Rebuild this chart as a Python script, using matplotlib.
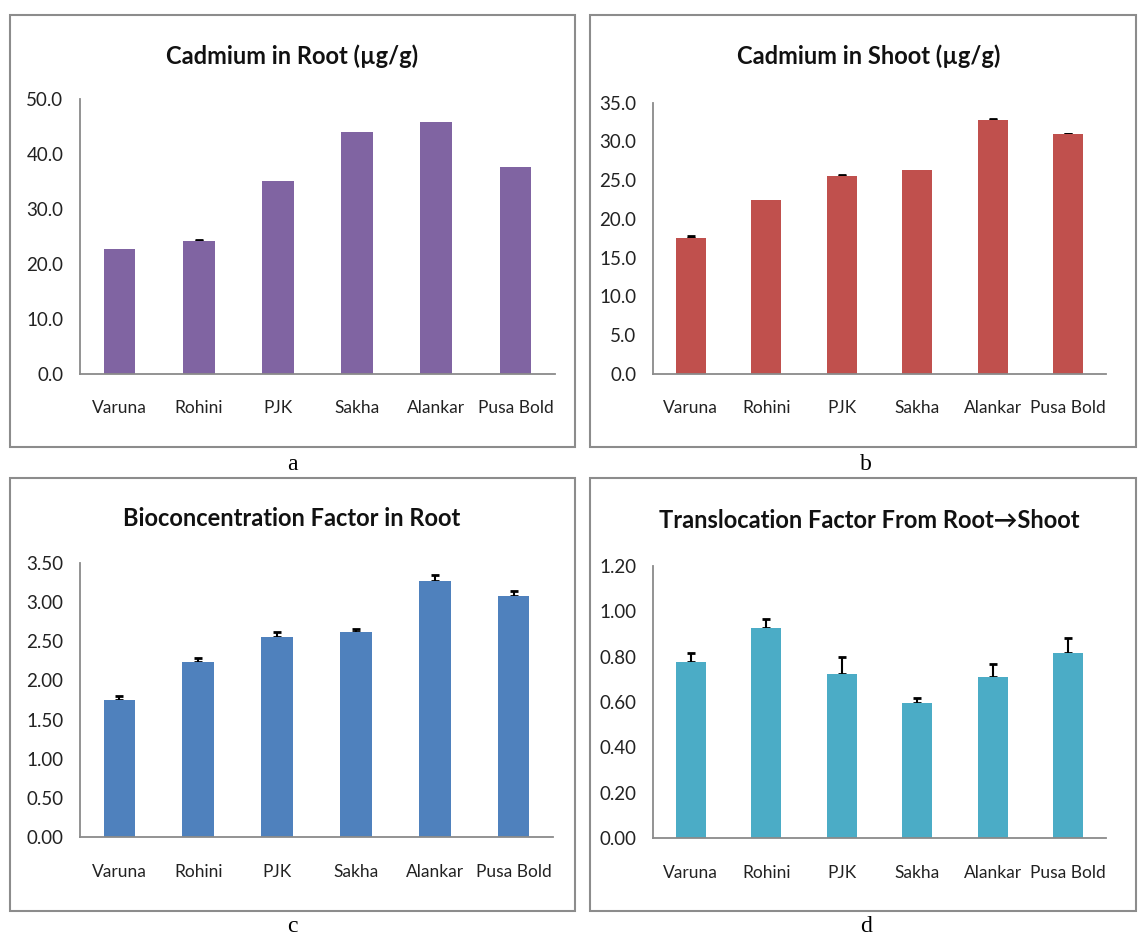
import numpy as np
import matplotlib
matplotlib.use("Agg")
import matplotlib.pyplot as plt
import matplotlib.patches as patches

plt.rcParams['font.family'] = ['Lato', 'DejaVu Sans']

varieties = ["Varuna", "Rohini", "PJK", "Sakha", "Alankar", "Pusa Bold"]

# cadmium in root, ug/g
cd_root = [22.7, 24.1, 35.1, 44.0, 45.8, 37.6]
cd_root_err = [0.0, 0.35, 0.0, 0.0, 0.0, 0.0]

# cadmium in shoot, ug/g
cd_shoot = [17.6, 22.4, 25.6, 26.3, 32.8, 30.9]
cd_shoot_err = [0.15, 0.0, 0.1, 0.0, 0.1, 0.1]

# bioconcentration factor in root
bcf_root = [1.75, 2.23, 2.55, 2.62, 3.27, 3.08]
bcf_root_err = [0.05, 0.05, 0.068, 0.03, 0.068, 0.064]

# translocation factor root -> shoot
tf = [0.776, 0.926, 0.725, 0.595, 0.710, 0.814]
tf_err = [0.041, 0.040, 0.073, 0.022, 0.059, 0.066]

W, H = 1139, 936
fig = plt.figure(figsize=(W / 100, H / 100), dpi=100)
fig.patch.set_facecolor('white')


def px_box(x0, y0, x1, y1):
    # pixel rect (top-left origin) -> figure fraction [l, b, w, h]
    return [x0 / W, (H - y1) / H, (x1 - x0) / W, (y1 - y0) / H]


panels = [
    # box, axes, title pos, letter pos, data, err, color, ymax, step, fmt, title, letter
    ((10, 15, 575, 447), (80, 99, 555, 374), (292, 56), (292, 465),
     cd_root, cd_root_err, '#8064A2', 50, 10, '%.1f', 'Cadmium in Root (µg/g)', 'a'),
    ((590, 15, 1136, 447), (653, 102.7, 1106, 374), (869, 56), (866, 465),
     cd_shoot, cd_shoot_err, '#C0504D', 35, 5, '%.1f', 'Cadmium in Shoot (µg/g)', 'b'),
    ((10, 478, 575, 911), (80, 562.7, 553, 837.3), (292, 518), (292, 927),
     bcf_root, bcf_root_err, '#4F81BD', 3.5, 0.5, '%.2f', 'Bioconcentration Factor in Root', 'c'),
    ((590, 478, 1136, 911), (653, 565.7, 1106, 838.3), (869, 520), (866, 927),
     tf, tf_err, '#4BACC6', 1.2, 0.2, '%.2f', 'Translocation Factor From Root→Shoot', 'd'),
]

x = np.arange(len(varieties))

for (box, axp, tpos, lpos, vals, errs, col, ymax, step, fmt, title, letter) in panels:
    # outer frame of each chart
    rect = patches.Rectangle((box[0] / W, (H - box[3]) / H), (box[2] - box[0]) / W,
                             (box[3] - box[1]) / H, transform=fig.transFigure,
                             fill=False, edgecolor='#8c8c8c', lw=1.5)
    fig.add_artist(rect)

    ax = fig.add_axes(px_box(*axp))
    ax.bar(x, vals, width=0.4, color=col, zorder=2)

    # plus-only error bars; the part below the bar top is hidden behind the bar
    vals = np.array(vals)
    errs = np.array(errs)
    m = errs > 0
    ax.errorbar(x[m], vals[m], yerr=[np.zeros(m.sum()), errs[m]], fmt='none',
                ecolor='black', elinewidth=1.5, capsize=3, capthick=2, zorder=1)

    ax.set_xlim(-0.5, len(varieties) - 0.5)
    ax.set_ylim(0, ymax)
    ax.set_yticks(np.arange(0, ymax + step / 2, step))
    ax.yaxis.set_major_formatter(matplotlib.ticker.FormatStrFormatter(fmt))
    ax.set_xticks(x)
    ax.set_xticklabels(varieties)
    ax.tick_params(axis='both', length=0, colors='#222222')
    ax.tick_params(axis='x', pad=19, labelsize=12.5)
    ax.tick_params(axis='y', pad=12, labelsize=13.5)
    for s in ['top', 'right']:
        ax.spines[s].set_visible(False)
    for s in ['left', 'bottom']:
        ax.spines[s].set_color('#8a8a8a')
        ax.spines[s].set_linewidth(1.3)
        ax.spines[s].set_zorder(3)
    ax.set_facecolor('none')

    fig.text(tpos[0] / W, 1 - tpos[1] / H, title, ha='center', va='center',
             fontsize=17, fontweight='bold', color='#111111')
    fig.text(lpos[0] / W, 1 - lpos[1] / H, letter, ha='center', va='center',
             fontsize=17, family='Liberation Serif')

fig.savefig('out.png', dpi=100, facecolor='white')
